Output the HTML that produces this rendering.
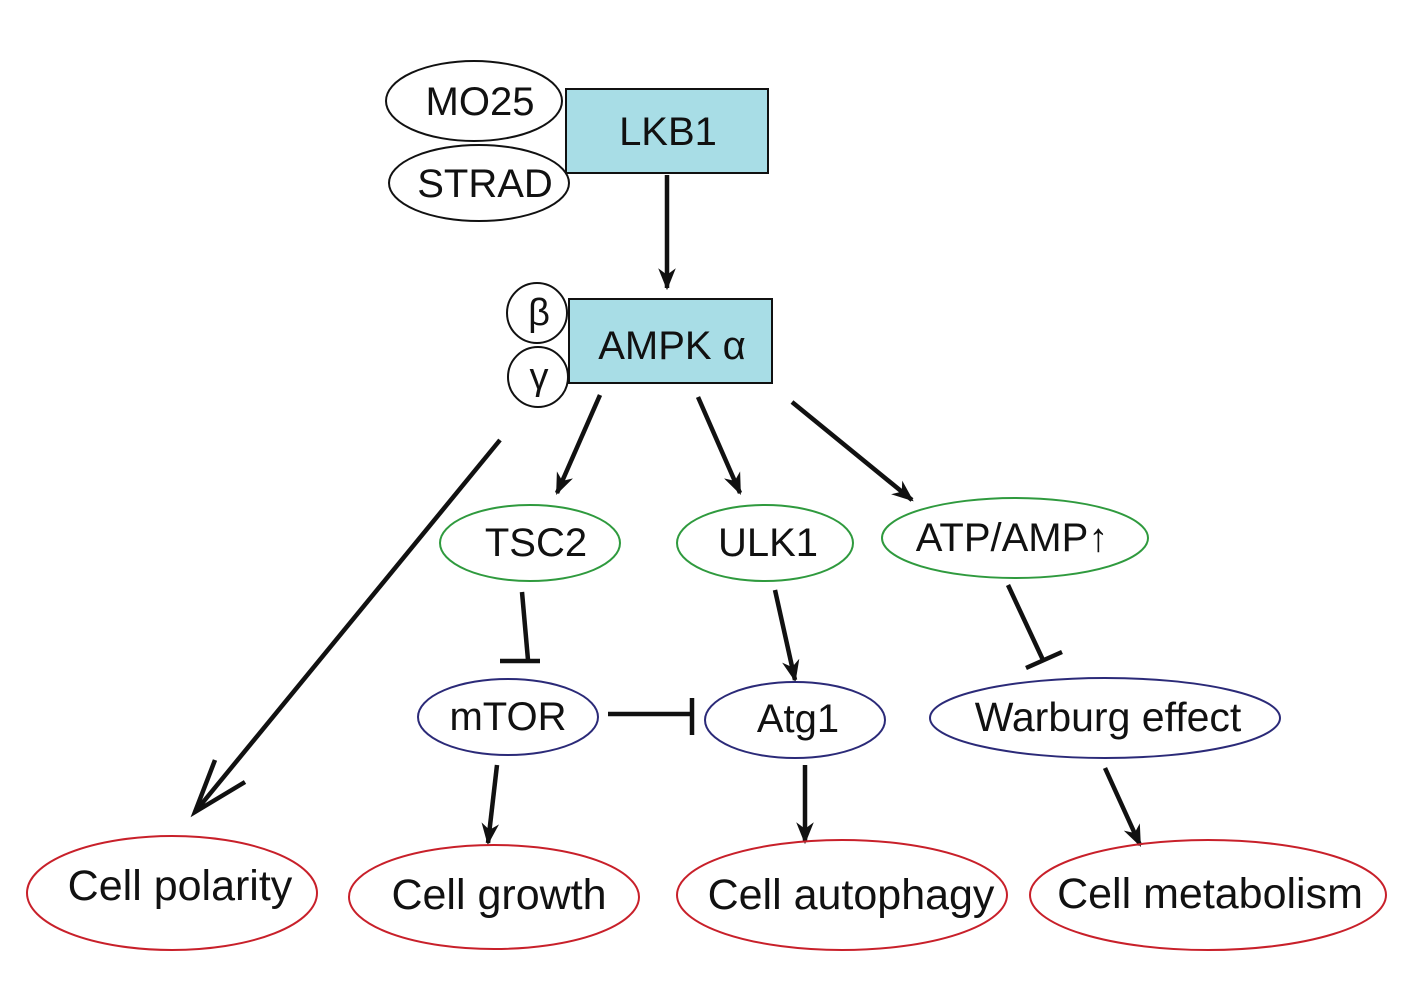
<!DOCTYPE html>
<html><head><meta charset="utf-8"><style>
html,body{margin:0;padding:0;background:#fff;}
svg{display:block;}
text{font-family:"Liberation Sans","DejaVu Sans",sans-serif;fill:#111;text-anchor:middle;dominant-baseline:central;}
</style></head><body>
<svg width="1417" height="995" viewBox="0 0 1417 995" xmlns="http://www.w3.org/2000/svg">
<defs>
<marker id="a" viewBox="0 0 20 20" refX="18" refY="10" markerWidth="22" markerHeight="22" markerUnits="userSpaceOnUse" orient="auto">
<path d="M0,2 L20,10 L0,18 L6,10 Z" fill="#111"/>
</marker>
</defs>
<g stroke="#111" stroke-width="4.5" fill="none">
<ellipse cx="474" cy="101" rx="88" ry="40" stroke-width="2"/>
<ellipse cx="479" cy="183" rx="90" ry="38" stroke-width="2"/>
<rect x="566" y="89" width="202" height="84" fill="#a8dde6" stroke-width="2"/>
<line x1="667" y1="175" x2="667" y2="288" marker-end="url(#a)"/>
<rect x="569" y="299" width="203" height="84" fill="#a8dde6" stroke-width="2"/>
<circle cx="537" cy="313" r="30" fill="#fff" stroke-width="2"/>
<circle cx="538" cy="377" r="30" fill="#fff" stroke-width="2"/>
<line x1="600" y1="395" x2="557" y2="493" marker-end="url(#a)"/>
<line x1="698" y1="397" x2="740" y2="493" marker-end="url(#a)"/>
<line x1="792" y1="402" x2="912" y2="500" marker-end="url(#a)"/>
<line x1="500" y1="440" x2="195" y2="812"/>
<polyline points="215,760 195,812 245,782"/>
<ellipse cx="530" cy="543" rx="90" ry="38" stroke="#2f9a3e" stroke-width="2"/>
<ellipse cx="765" cy="543" rx="88" ry="38" stroke="#2f9a3e" stroke-width="2"/>
<ellipse cx="1015" cy="538" rx="133" ry="40" stroke="#2f9a3e" stroke-width="2"/>
<line x1="522" y1="592" x2="528" y2="660"/>
<line x1="500" y1="661" x2="540" y2="661"/>
<line x1="775" y1="590" x2="795" y2="680" marker-end="url(#a)"/>
<line x1="1008" y1="585" x2="1043" y2="660"/>
<line x1="1026" y1="668" x2="1062" y2="652"/>
<ellipse cx="508" cy="717" rx="90" ry="38" stroke="#2b2a78" stroke-width="2"/>
<ellipse cx="795" cy="720" rx="90" ry="38" stroke="#2b2a78" stroke-width="2"/>
<ellipse cx="1105" cy="718" rx="175" ry="40" stroke="#2b2a78" stroke-width="2"/>
<line x1="608" y1="714" x2="690" y2="714"/>
<line x1="692" y1="698" x2="692" y2="735"/>
<line x1="497" y1="765" x2="488" y2="843" marker-end="url(#a)"/>
<line x1="805" y1="765" x2="805" y2="842" marker-end="url(#a)"/>
<line x1="1105" y1="768" x2="1140" y2="845" marker-end="url(#a)"/>
<ellipse cx="172" cy="893" rx="145" ry="57" stroke="#c8202a" stroke-width="2"/>
<ellipse cx="494" cy="897" rx="145" ry="52" stroke="#c8202a" stroke-width="2"/>
<ellipse cx="842" cy="895" rx="165" ry="55" stroke="#c8202a" stroke-width="2"/>
<ellipse cx="1208" cy="895" rx="178" ry="55" stroke="#c8202a" stroke-width="2"/>
</g>
<text x="480" y="102" font-size="40">MO25</text>
<text x="485" y="184" font-size="40">STRAD</text>
<text x="668" y="132" font-size="40">LKB1</text>
<text x="672" y="346" font-size="40">AMPK α</text>
<text x="539" y="313" font-size="38">β</text>
<text x="539" y="377" font-size="38">γ</text>
<text x="536" y="543" font-size="40">TSC2</text>
<text x="768" y="543" font-size="40">ULK1</text>
<text x="1012" y="538" font-size="40">ATP/AMP↑</text>
<text x="508" y="717" font-size="40">mTOR</text>
<text x="798" y="719" font-size="40">Atg1</text>
<text x="1108" y="717" font-size="41">Warburg effect</text>
<text x="180" y="886" font-size="43">Cell polarity</text>
<text x="499" y="895" font-size="43">Cell growth</text>
<text x="851" y="895" font-size="43">Cell autophagy</text>
<text x="1210" y="894" font-size="43">Cell metabolism</text>
</svg>
</body></html>
